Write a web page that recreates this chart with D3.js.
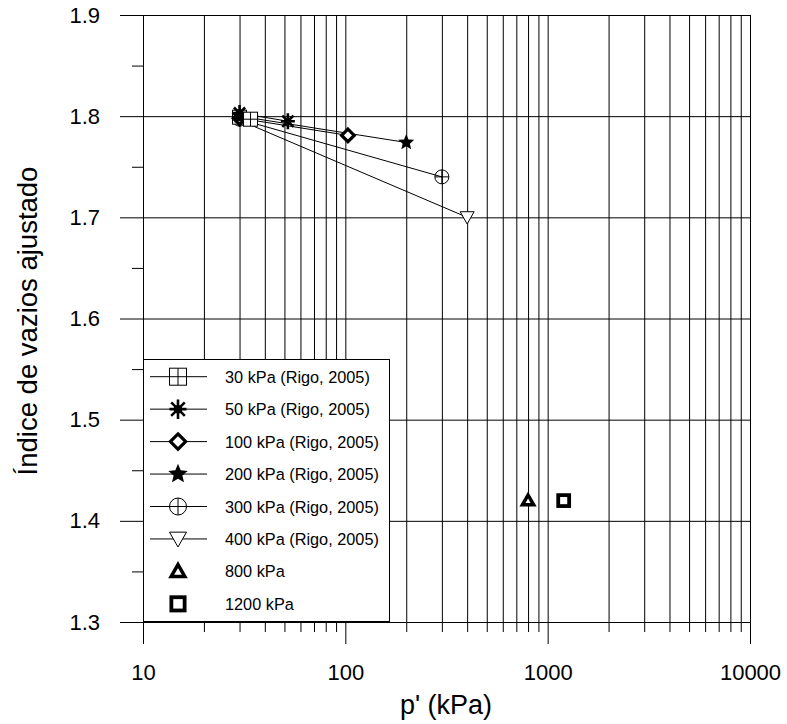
<!DOCTYPE html>
<html>
<head>
<meta charset="utf-8">
<script src="https://cdn.jsdelivr.net/npm/d3@7"></script>
<style>
  html, body { margin: 0; padding: 0; background: #fff; }
  svg { display: block; font-family: Arial, "Liberation Sans", sans-serif; }
</style>
</head>
<body>
<svg id="chart" width="787" height="724"></svg>
<script>
// Series from Rigo (2005): each one goes from its start state to its end state
const seriesLabels = ["30 kPa (Rigo, 2005)", "50 kPa (Rigo, 2005)", "100 kPa (Rigo, 2005)",
                      "200 kPa (Rigo, 2005)", "300 kPa (Rigo, 2005)", "400 kPa (Rigo, 2005)"];
const seriesMarkers = ["sqcross", "asterisk", "diamond", "star", "circlecross", "tridown"];
const pStart = [30, 30, 30, 30, 30, 30];
const eStart = [1.799, 1.803, 1.798, 1.800, 1.797, 1.796];
const pEnd   = [34, 52, 103, 200, 300, 400];
const eEnd   = [1.797, 1.795, 1.781, 1.774, 1.740, 1.700];

// Single points from the present tests
const pointLabels  = ["800 kPa", "1200 kPa"];
const pointMarkers = ["triup", "square"];
const pPoint = [800, 1200];
const ePoint = [1.420, 1.420];

// Axis ticks
const yTicks = [1.3, 1.4, 1.5, 1.6, 1.7, 1.8, 1.9];
const yMinorTicks = [1.35, 1.45, 1.55, 1.65, 1.75, 1.85];
const xTicks = [10, 100, 1000, 10000];
const xTickLabels = ["10", "100", "1000", "10000"];

const svg = d3.select("#chart");
const x = d3.scaleLog().domain([10, 10000]).range([143, 750]);
const y = d3.scaleLinear().domain([1.3, 1.9]).range([622, 15]);

// minor log positions (2..9 of each decade)
const xMinor = [];
[10, 100, 1000].forEach(d => { for (let k = 2; k <= 9; k++) xMinor.push(d * k); });

// Gridlines
const grid = svg.append("g");
grid.append("g").attr("transform", "translate(0,622)")
  .call(d3.axisBottom(x).tickValues(xMinor.concat(xTicks)).tickSize(-607).tickFormat(""))
  .call(g => g.select(".domain").remove())
  .call(g => g.selectAll("line").attr("stroke", "#000").attr("stroke-width", 1));
grid.append("g").attr("transform", "translate(143,0)")
  .call(d3.axisLeft(y).tickValues(yTicks).tickSize(-607).tickFormat(""))
  .call(g => g.select(".domain").remove())
  .call(g => g.selectAll("line").attr("stroke", "#000").attr("stroke-width", 1));

// Axes
const axX = svg.append("g").attr("transform", "translate(0,622)");
axX.call(d3.axisBottom(x).tickValues(xTicks).tickSize(22).tickPadding(20)
    .tickFormat((d, i) => xTickLabels[i]))
  .call(g => g.select(".domain").attr("stroke", "#000"))
  .call(g => g.selectAll("text").attr("font-size", 22).attr("fill", "#000")
    .attr("font-family", "Arial, 'Liberation Sans', sans-serif"));
svg.append("g").attr("transform", "translate(0,622)")
  .call(d3.axisBottom(x).tickValues(xMinor).tickSize(10).tickFormat(""))
  .call(g => g.select(".domain").remove());

const axY = svg.append("g").attr("transform", "translate(143,0)");
axY.call(d3.axisLeft(y).tickValues(yTicks).tickSize(23).tickPadding(20)
    .tickFormat(d3.format(".1f")))
  .call(g => g.select(".domain").attr("stroke", "#000"))
  .call(g => g.selectAll("text").attr("font-size", 22).attr("fill", "#000")
    .attr("font-family", "Arial, 'Liberation Sans', sans-serif"));
svg.append("g").attr("transform", "translate(143,0)")
  .call(d3.axisLeft(y).tickValues(yMinorTicks).tickSize(11).tickFormat(""))
  .call(g => g.select(".domain").remove());

// Axis titles
svg.append("text").attr("x", 446).attr("y", 714).attr("text-anchor", "middle")
  .attr("font-size", 27).text("p' (kPa)");
svg.append("text").attr("transform", "translate(37,321) rotate(-90)")
  .attr("text-anchor", "middle").attr("font-size", 27.5).text("Índice de vazios ajustado");

// Marker drawing
function starPath(r) {
  const pts = [];
  for (let i = 0; i < 10; i++) {
    const rr = i % 2 === 0 ? r : r * 0.45;
    const a = -Math.PI / 2 + i * Math.PI / 5;
    pts.push([rr * Math.cos(a), rr * Math.sin(a)]);
  }
  return "M" + pts.map(p => p.join(",")).join("L") + "Z";
}
function drawMarker(g, type, s) {
  const h = s / 2;
  if (type === "sqcross") {
    g.append("rect").attr("x", -h).attr("y", -h).attr("width", s).attr("height", s)
      .attr("fill", "#fff").attr("stroke", "#000").attr("stroke-width", 1);
    g.append("path").attr("d", `M${-h},0H${h}M0,${-h}V${h}`).attr("stroke", "#000").attr("stroke-width", 1);
  } else if (type === "asterisk") {
    const a = h * 0.8;
    g.append("path").attr("d", `M0,${-h * 1.15}V${h * 1.15}M${-a},${-a}L${a},${a}M${-a},${a}L${a},${-a}M${-h},0H${h}`)
      .attr("stroke", "#000").attr("stroke-width", 2.6);
    g.append("circle").attr("r", h * 0.5).attr("fill", "#000");
  } else if (type === "diamond") {
    const d = h * 0.9;
    g.append("path").attr("d", `M0,${-d}L${d},0L0,${d}L${-d},0Z`)
      .attr("fill", "#fff").attr("stroke", "#000").attr("stroke-width", 3.2);
  } else if (type === "star") {
    g.append("path").attr("d", starPath(h * 1.2)).attr("fill", "#000");
  } else if (type === "circlecross") {
    g.append("circle").attr("r", h).attr("fill", "none").attr("stroke", "#000").attr("stroke-width", 1);
    g.append("path").attr("d", `M${-h},0H${h}M0,${-h}V${h}`).attr("stroke", "#000").attr("stroke-width", 1);
  } else if (type === "tridown") {
    g.append("path").attr("d", `M${-h},${-h * 0.8}L${h},${-h * 0.8}L0,${h * 0.95}Z`)
      .attr("fill", "#fff").attr("stroke", "#000").attr("stroke-width", 1);
  } else if (type === "triup") {
    const t = h * 0.8;
    g.append("path").attr("d", `M0,${-t}L${t},${t * 0.75}L${-t},${t * 0.75}Z`)
      .attr("fill", "#fff").attr("stroke", "#000").attr("stroke-width", 3.5).attr("stroke-linejoin", "miter");
  } else if (type === "square") {
    const q = h * 0.78;
    g.append("rect").attr("x", -q).attr("y", -q).attr("width", 2 * q).attr("height", 2 * q)
      .attr("fill", "#fff").attr("stroke", "#000").attr("stroke-width", 3.8);
  }
}

// Series lines
const plot = svg.append("g");
seriesLabels.forEach((lab, i) => {
  plot.append("line")
    .attr("x1", x(pStart[i])).attr("y1", y(eStart[i]))
    .attr("x2", x(pEnd[i])).attr("y2", y(eEnd[i]))
    .attr("stroke", "#000").attr("stroke-width", 1);
});
// Markers: open ones first so the filled ones sit on top
const order = [5, 4, 0, 2, 1, 3];
order.forEach(i => {
  drawMarker(plot.append("g").attr("transform", `translate(${x(pStart[i])},${y(eStart[i])})`), seriesMarkers[i], 14);
});
order.forEach(i => {
  drawMarker(plot.append("g").attr("transform", `translate(${x(pEnd[i])},${y(eEnd[i])})`), seriesMarkers[i], 14);
});
pointLabels.forEach((lab, i) => {
  drawMarker(plot.append("g").attr("transform", `translate(${x(pPoint[i])},${y(ePoint[i])})`), pointMarkers[i], 14);
});

// Legend
const leg = svg.append("g");
leg.append("rect").attr("x", 143.5).attr("y", 359.5).attr("width", 246).attr("height", 262)
  .attr("fill", "#fff").attr("stroke", "#000").attr("stroke-width", 1);
const legItems = seriesLabels.map((l, i) => ({ label: l, marker: seriesMarkers[i], line: true }))
  .concat(pointLabels.map((l, i) => ({ label: l, marker: pointMarkers[i], line: false })));
legItems.forEach((it, i) => {
  const cy = 376.7 + i * 32.45;
  const g = leg.append("g");
  if (it.line) {
    g.append("line").attr("x1", 150).attr("x2", 207).attr("y1", cy).attr("y2", cy)
      .attr("stroke", "#000").attr("stroke-width", 1);
  }
  drawMarker(g.append("g").attr("transform", `translate(178,${cy})`), it.marker, 17);
  g.append("text").attr("x", 225).attr("y", cy + 6).attr("font-size", 16.3).attr("fill", "#000").text(it.label);
});
</script>
</body>
</html>
